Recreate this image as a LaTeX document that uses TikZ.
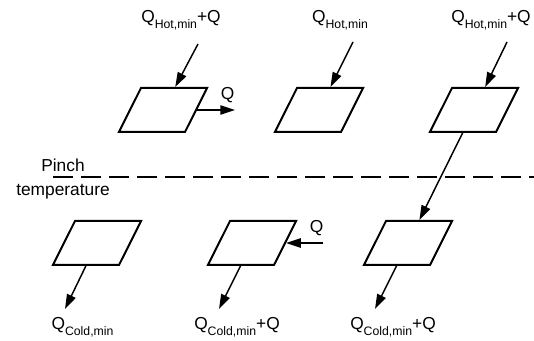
\documentclass[tikz,border=0pt]{standalone}
\usepackage{fontspec}
\setmainfont{Liberation Sans}
\usetikzlibrary{arrows.meta,shapes.geometric}

\newcommand{\lowsub}[1]{\raisebox{-4.5pt}{\fontsize{9.2}{10}\selectfont #1}}

\tikzset{
    unit/.style={draw, line width=1.5pt, trapezium, trapezium left angle=63.4,
        trapezium right angle=116.6, inner sep=16.5pt},
    heat/.style={->, line width=1.1pt},
    lbl/.style={anchor=base, inner sep=0pt}
}

\begin{document}
\begin{tikzpicture}[>={Triangle[length=11pt,width=7pt]}, x=0.75pt, y=-0.75pt,
    font=\fontsize{13}{17}\selectfont]

\useasboundingbox (0,0) rectangle (534,341);

% --------------------------------------------------
% Pinch line
% --------------------------------------------------
\draw[line width=0.9pt, dash pattern=on 15pt off 6pt] (53,177) -- (534,177);
\node[align=center, inner sep=0pt] (pinch) at (63,179)
    {Pinch\\[1pt]temperature};

% --------------------------------------------------
% Above the pinch
% --------------------------------------------------
\node[unit] (hotA) at (163,110) {};
\node[unit] (hotB) at (319,110) {};
\node[unit] (hotC) at (474,110) {};

\node[lbl] (inA) at (181,23) {Q\lowsub{Hot,min}+Q};
\node[lbl] (inB) at (340,23) {Q\lowsub{Hot,min}};
\node[lbl] (inC) at (491,23) {Q\lowsub{Hot,min}+Q};

\coordinate (srcA) at (198,44);
\coordinate (srcB) at (353,42);
\coordinate (srcC) at (507,42);

\draw[heat] (srcA) -- (hotA);
\draw[heat] (srcB) -- (hotB);
\draw[heat] (srcC) -- (hotC);

\coordinate (outA) at (235,110);
\draw[heat] (hotA) -- (outA);
\node[lbl] (qA) at (227.5,100) {Q};

% --------------------------------------------------
% Below the pinch
% --------------------------------------------------
\node[unit] (coldA) at (97,243) {};
\node[unit] (coldB) at (252,243) {};
\node[unit] (coldC) at (408,243) {};

\draw[heat] (hotC) -- (coldC);

\coordinate (inQ) at (323,243);
\draw[heat] (inQ) -- (coldB);
\node[lbl] (qB) at (316.5,233) {Q};

\coordinate (sinkA) at (65,309);
\coordinate (sinkB) at (219,309);
\coordinate (sinkC) at (375,309);

\draw[heat] (coldA) -- (sinkA);
\draw[heat] (coldB) -- (sinkB);
\draw[heat] (coldC) -- (sinkC);

\node[lbl] (outLA) at (82.5,329) {Q\lowsub{Cold,min}};
\node[lbl] (outLB) at (237,329) {Q\lowsub{Cold,min}+Q};
\node[lbl] (outLC) at (393,329) {Q\lowsub{Cold,min}+Q};

\end{tikzpicture}
\end{document}
